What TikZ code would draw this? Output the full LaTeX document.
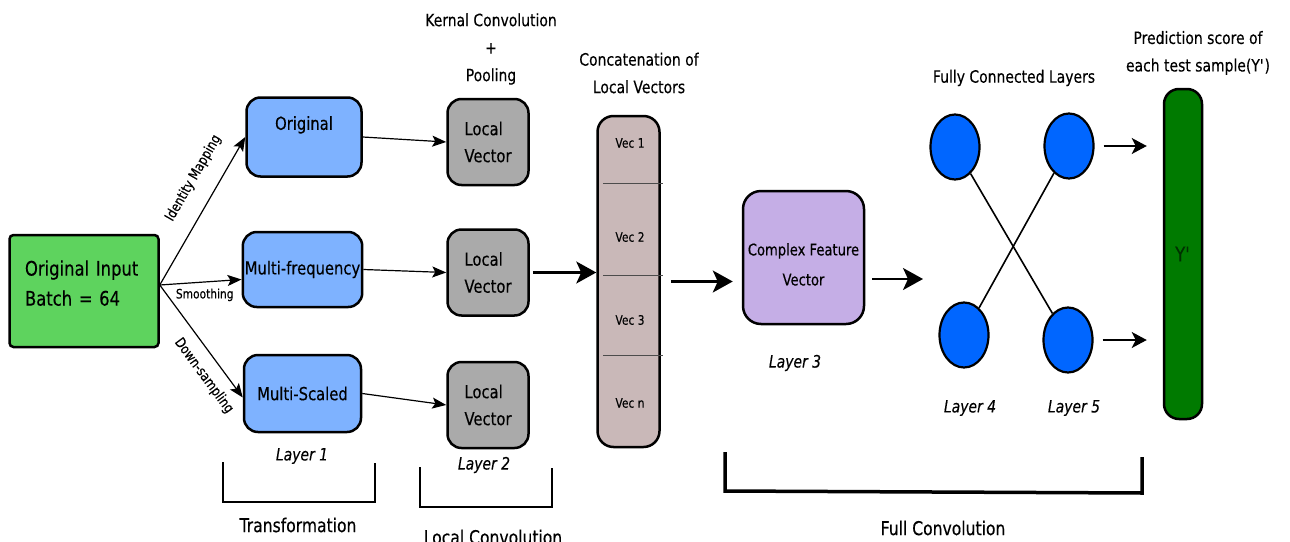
\documentclass[tikz,border=0pt]{standalone}
\usepackage{fontspec}
\setmainfont{DejaVu Sans}[FakeStretch=0.82,FakeBold=0.3]
\usetikzlibrary{arrows.meta,shapes.geometric}
\definecolor{ingreen}{RGB}{94,211,94}
\definecolor{trblue}{RGB}{126,178,255}
\definecolor{lvgray}{RGB}{170,170,170}
\definecolor{catrose}{RGB}{201,184,184}
\definecolor{cfpurple}{RGB}{197,174,230}
\definecolor{fcblue}{RGB}{0,102,255}
\definecolor{ybar}{RGB}{0,122,0}
\definecolor{ytext}{RGB}{0,48,0}
\newcommand\fsz[2]{\fontsize{#1}{#2}\selectfont}
\begin{document}
\begin{tikzpicture}[x=1pt,y=-1pt,
  box/.style={draw,line width=2.5pt,rounded corners=14pt,inner sep=2pt},
  lab/.style={inner sep=2pt,font=\fsz{14}{16}},
  hd/.style={align=center,font=\fsz{17}{27.5}},
  lay/.style={font=\fsz{17}{20}\itshape},
  brk/.style={font=\fsz{19}{22}},
  arr/.style={-{Stealth[length=14pt,width=11pt,inset=3pt]},line width=1.2pt},
  bigarr/.style={-{Stealth[length=20pt,width=22pt,inset=5pt]},line width=2.2pt},
  neuron/.style={ellipse,draw,line width=2.2pt,fill=fcblue,minimum width=49pt,minimum height=65pt,inner sep=0pt}]
\useasboundingbox (0,0) rectangle (1290,541);

\node[box,fill=ingreen,rounded corners=4pt,minimum width=149pt,minimum height=112pt,text width=118pt,align=left,font=\fsz{20}{30}] (input) at (84,291) {Original Input\\Batch = 64\rule[-16pt]{0pt}{16pt}};

\node[box,fill=trblue,minimum width=115pt,minimum height=79pt,font=\fsz{18}{22}] (orig) at (304,137) {Original\rule[-28pt]{0pt}{28pt}};
\node[box,fill=trblue,minimum width=117pt,minimum height=75pt,font=\fsz{18}{22}] (mf) at (302.5,269.5) {Multi-frequency};
\node[box,fill=trblue,minimum width=117pt,minimum height=77pt,font=\fsz{18}{22}] (ms) at (302.5,393.5) {Multi-Scaled};

\draw[arr] ([yshift=6pt]input.east) -- node[lab,pos=0.64,above=15pt,sloped] (lid) {Identity Mapping} (orig.west);
\draw[arr] ([yshift=6pt]input.east) -- node[lab,pos=0.55,below=4pt,font=\fsz{13}{15}] (lsm) {Smoothing} ([yshift=-10pt]mf.west);
\draw[arr] ([yshift=6pt]input.east) -- node[lab,pos=0.71,below=9pt,sloped] (lds) {Down-sampling} ([yshift=-4pt]ms.west);

\foreach \n/\y in {lv1/142,lv2/272.5,lv3/405}
  \node[box,fill=lvgray,minimum width=81pt,minimum height=86pt,align=left,font=\fsz{18}{27}] (\n) at (488,\y) {Local\\Vector};

\draw[arr] (orig.east) -- (lv1.west);
\draw[arr] (mf.east) -- (lv2.west);
\draw[arr] (ms.east) -- (lv3.west);

\node[hd] (kcp) at (491,49) {Kernal Convolution\\+\\Pooling};
\node[hd] (clv) at (639,73) {Concatenation of\\Local Vectors};

\node[box,fill=catrose,rounded corners=16pt,minimum width=62pt,minimum height=331pt] (concat) at (628.5,281.5) {};
\foreach \y in {183,275,355}
  \draw[line width=0.8pt,black!70] (603,\y) -- (663,\y);
\foreach \t/\y [count=\i] in {Vec 1/143,Vec 2/237,Vec 3/320,Vec n/403}
  \node[font=\fsz{13}{15}] (vec\i) at (630,\y) {\t};

\draw[bigarr,shorten <=3pt] (lv2.east) -- (lv2.east -| concat.west);

\node[box,fill=cfpurple,rounded corners=18pt,minimum width=121pt,minimum height=133pt,align=center,font=\fsz{16}{30}] (cfv) at (803.5,257.5) {\rule{0pt}{26pt}Complex Feature\\Vector};
\draw[bigarr,shorten <=10pt,shorten >=9pt] (concat.east) -- (concat.east -| cfv.west);
\coordinate (fcin) at (923,279);
\draw[bigarr,shorten <=7pt] (cfv.east |- fcin) -- (fcin);

\node[hd] (fcl) at (1014,78) {Fully Connected Layers};
\node[neuron] (n1) at (955,147) {};
\node[neuron] (n2) at (1069,146) {};
\node[neuron] (n3) at (964,335) {};
\node[neuron] (n4) at (1068,340) {};
\draw[line width=1.6pt] (n1) -- (n4);
\draw[line width=1.6pt] (n3) -- (n2);

\node[hd] (pred) at (1198,53) {Prediction score of\\each test sample(Y\textquotesingle)};
\node[box,fill=ybar,rounded corners=15pt,minimum width=38pt,minimum height=330pt,text=ytext,font=\fsz{20}{24}] (bar) at (1183,254) {Y\textquotesingle};
\draw[-{Stealth[length=15pt,width=16pt,inset=4pt]},line width=1.5pt,shorten <=9pt,shorten >=16pt] (n2.east) -- (n2.east -| bar.west);
\draw[-{Stealth[length=15pt,width=16pt,inset=4pt]},line width=1.5pt,shorten <=9pt,shorten >=16pt] (n4.east) -- (n4.east -| bar.west);

\node[lay] (l1) at (302,456) {Layer 1};
\node[lay] (l2) at (484,465) {Layer 2};
\node[lay] (l3) at (795,363) {Layer 3};
\node[lay] (l4) at (970,408) {Layer 4};
\node[lay] (l5) at (1074,408) {Layer 5};

\draw[line width=1.3pt] (223,462) -- (223,502) -- (375,502) -- (375,463);
\draw[line width=1.3pt] (420,467) -- (420,507) -- (552,507) -- (552,468);
\draw[line width=3.5pt] (725,452) -- (725,491) -- (1142,493) -- (1142,457);
\node[brk] (tr) at (298,525) {Transformation};
\node[brk] (lc) at (493,537) {Local Convolution};
\node[brk] (fc) at (943,528) {Full Convolution};
\end{tikzpicture}
\end{document}
